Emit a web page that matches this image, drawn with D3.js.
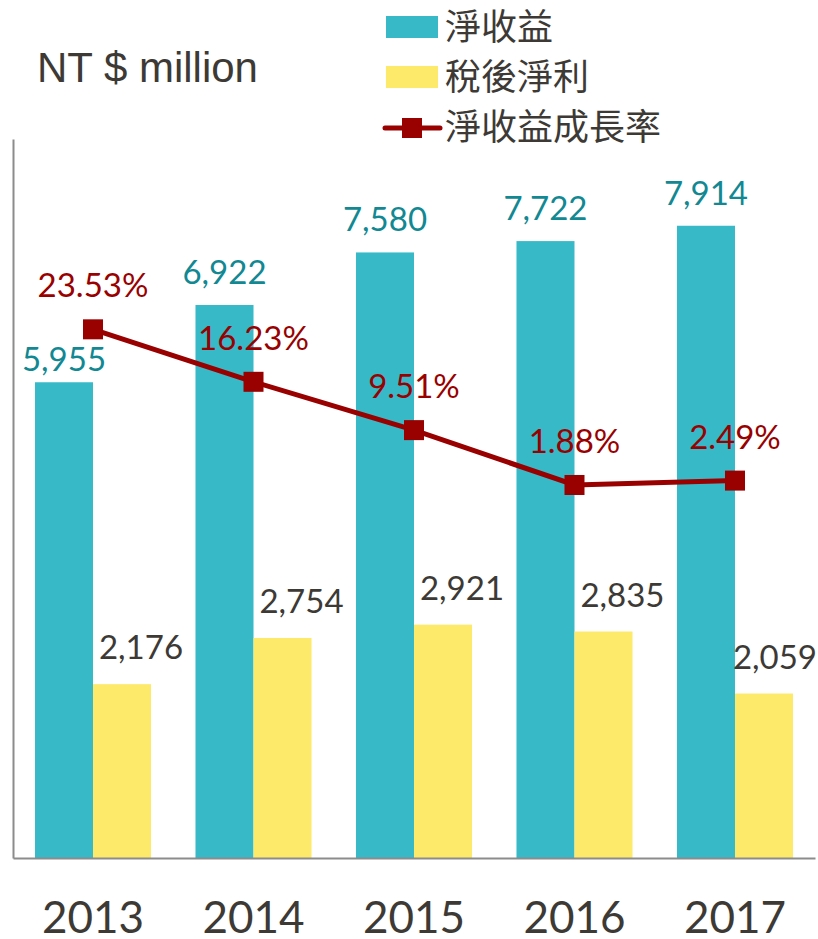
<!DOCTYPE html>
<html>
<head>
<meta charset="utf-8">
<script src="https://cdn.jsdelivr.net/npm/d3@7"></script>
<style>
  body { margin: 0; background: #fff; }
  svg { display: block; }
</style>
</head>
<body>
<svg width="818" height="939"></svg>
<script>
// donnees
var years = ["2013", "2014", "2015", "2016", "2017"];
var netRevenue = [5955, 6922, 7580, 7722, 7914];
var netIncome = [2176, 2754, 2921, 2835, 2059];
var growthRate = [23.53, 16.23, 9.51, 1.88, 2.49];
var seriesNames = ["淨收益", "稅後淨利", "淨收益成長率"];

var teal = "#37b9c8", yellow = "#fde96a", red = "#990000";
var textGray = "#3d3a36", tealText = "#118892";
var numFont = "Lato, 'Open Sans', sans-serif";

var svg = d3.select("svg");
var plotLeft = 13, plotRight = 815, plotBottom = 858, plotTop = 139;

var x0 = d3.scaleBand()
    .domain(years)
    .range([plotLeft, plotRight])
    .paddingInner(0.277)
    .paddingOuter(0.137);

var x1 = d3.scaleBand()
    .domain(["rev", "inc"])
    .range([0, x0.bandwidth()]);

var y = d3.scaleLinear().domain([0, 9000]).range([plotBottom, plotTop]);
var y2 = d3.scaleLinear().domain([-50, 50]).range([plotBottom, plotTop]);

var data = years.map(function(yr, i) {
  return {year: yr, rev: netRevenue[i], inc: netIncome[i], g: growthRate[i]};
});

// barres
var groups = svg.append("g").selectAll("g")
    .data(data)
    .enter().append("g")
    .attr("transform", function(d) { return "translate(" + x0(d.year) + ",0)"; });

groups.append("rect")
    .attr("x", x1("rev"))
    .attr("y", function(d) { return y(d.rev); })
    .attr("width", x1.bandwidth())
    .attr("height", function(d) { return plotBottom - y(d.rev); })
    .attr("fill", teal);

groups.append("rect")
    .attr("x", x1("inc"))
    .attr("y", function(d) { return y(d.inc); })
    .attr("width", x1.bandwidth())
    .attr("height", function(d) { return plotBottom - y(d.inc); })
    .attr("fill", yellow);

// etiquettes des barres
// si l'etiquette touche le marqueur, on la descend sous le marqueur
groups.append("text")
    .attr("x", x1("rev") + x1.bandwidth() / 2)
    .attr("y", function(d) {
      var ly = y(d.rev) - 21;
      var markBottom = y2(d.g) + 10;
      if (ly - 24 < markBottom && ly > y2(d.g) - 10) ly = markBottom + 8 + 24;
      return ly;
    })
    .attr("text-anchor", "middle")
    .attr("font-family", numFont)
    .attr("font-size", 33)
    .attr("fill", tealText)
    .text(function(d) { return d3.format(",")(d.rev); });

var incLabels = groups.append("text")
    .attr("x", x1("inc") + x1.bandwidth() / 2 + 19)
    .attr("y", function(d) { return y(d.inc) - 25; })
    .attr("text-anchor", "middle")
    .attr("font-family", numFont)
    .attr("font-size", 33)
    .attr("fill", textGray)
    .text(function(d) { return d3.format(",")(d.inc); });

// garder le dernier label dans la zone
incLabels.each(function(d) {
  var b = this.getBoundingClientRect();
  if (b.right > 817) {
    d3.select(this).attr("x", +d3.select(this).attr("x") - (b.right - 817));
  }
});

// axes
var xAxis = svg.append("g")
    .attr("transform", "translate(0," + plotBottom + ")")
    .call(d3.axisBottom(x0).tickSize(0).tickPadding(44));
xAxis.select(".domain").attr("stroke", "#8c8c8c").attr("stroke-width", 2);
xAxis.selectAll("text")
    .attr("font-family", numFont)
    .attr("font-size", 44)
    .attr("fill", textGray);

var yAxis = svg.append("g")
    .attr("transform", "translate(" + plotLeft + ",0)")
    .call(d3.axisLeft(y).ticks(0).tickSizeOuter(0));
yAxis.select(".domain").attr("stroke", "#8c8c8c").attr("stroke-width", 2);

// ligne taux de croissance
var cx = function(d) { return x0(d.year) + x0.bandwidth() / 2; };
var line = d3.line()
    .x(cx)
    .y(function(d) { return y2(d.g); });

svg.append("path")
    .datum(data)
    .attr("d", line)
    .attr("fill", "none")
    .attr("stroke", red)
    .attr("stroke-width", 5);

svg.append("g").selectAll("rect")
    .data(data)
    .enter().append("rect")
    .attr("x", function(d) { return cx(d) - 10; })
    .attr("y", function(d) { return y2(d.g) - 10; })
    .attr("width", 20)
    .attr("height", 20)
    .attr("fill", red);

svg.append("g").selectAll("text")
    .data(data)
    .enter().append("text")
    .attr("x", cx)
    .attr("y", function(d) { return y2(d.g) - 32; })
    .attr("text-anchor", "middle")
    .attr("font-family", numFont)
    .attr("font-size", 33)
    .attr("fill", red)
    .text(function(d) { return d.g.toFixed(2) + "%"; });

// titre unite
svg.append("text")
    .attr("x", 37)
    .attr("y", 82)
    .attr("font-family", "'Liberation Sans', Arial, sans-serif")
    .attr("font-size", 42)
    .attr("fill", textGray)
    .text("NT $ million");

// legende
var legend = svg.append("g")
    .attr("font-family", "'Noto Sans CJK TC', sans-serif")
    .attr("font-size", 36)
    .attr("fill", textGray)
    .selectAll("g")
    .data(seriesNames)
    .enter().append("g")
    .attr("transform", function(d, i) { return "translate(0," + (27 + i * 50) + ")"; });

legend.filter(function(d, i) { return i < 2; })
    .append("rect")
    .attr("x", 386)
    .attr("y", -11)
    .attr("width", 52)
    .attr("height", 22)
    .attr("fill", function(d, i) { return i === 0 ? teal : yellow; });

var lineLeg = legend.filter(function(d, i) { return i === 2; });
lineLeg.append("line")
    .attr("x1", 385).attr("x2", 440)
    .attr("y1", 1).attr("y2", 1)
    .attr("stroke", red)
    .attr("stroke-width", 5)
    .attr("stroke-linecap", "round");
lineLeg.append("rect")
    .attr("x", 402).attr("y", -9)
    .attr("width", 20).attr("height", 20)
    .attr("fill", red);

legend.append("text")
    .attr("x", 445)
    .attr("y", 0)
    .attr("dy", "0.36em")
    .text(function(d) { return d; });
</script>
</body>
</html>
